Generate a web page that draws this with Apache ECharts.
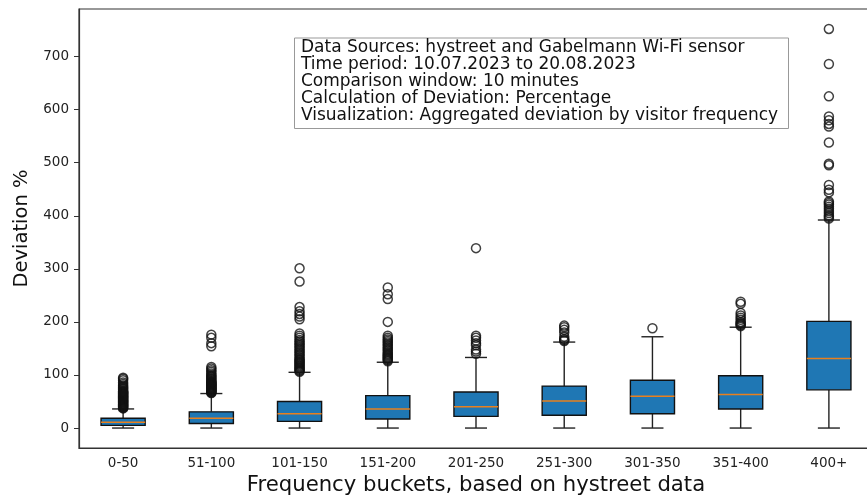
<!DOCTYPE html>
<html>
<head>
<meta charset="utf-8">
<script src="https://cdn.jsdelivr.net/npm/echarts@6/dist/echarts.min.js"></script>
<style>
html,body{margin:0;padding:0;background:#fff;}
#chart{width:867px;height:495px;}
</style>
</head>
<body>
<div id="chart"></div>
<script>
const categories = ['0-50','51-100','101-150','151-200','201-250','251-300','301-350','351-400','400+'];
const whiskerLow = [0, 0, 0, 0, 0, 0, 0, 0, 0];
const q1 = [5, 8.7, 12.5, 17, 22, 24, 27, 36, 72];
const medians = [11, 18.5, 27, 36, 40, 51, 60, 63, 131];
const q3 = [18.5, 30.5, 50, 61, 68, 79, 90, 98.5, 201];
const whiskerHigh = [36, 65, 105, 124, 133, 162, 172, 190, 392];
const outliers = [
  [37,38,39,40,41,42,43,44,45,46,47,48,49,50,51,52,53,54,55,56,57,58,59,60,61,62,63,64,65,66,67,68,69,70,72,74,76,78,80,83,86,90,93,95],
  [66,67,68,69,70,71,72,73,74,75,76,77,78,79,80,81,82,83,84,85,86,87,88,90,92,94,96,98,100,103,106,109,112,115,154,160,170,176],
  [106,108,110,112,114,116,118,120,122,124,126,128,130,133,136,139,142,145,148,151,154,157,160,163,166,170,174,178,205,210,215,220,228,276,301],
  [126,128,130,132,134,136,138,140,143,146,149,152,155,158,161,164,167,170,174,200,243,252,265],
  [140,144,148,156,160,165,170,174,339],
  [164,166,168,172,180,185,190,193],
  [188],
  [192,194,196,198,200,204,208,212,217,234,238],
  [395,398,401,405,409,413,417,421,424,427,444,449,458,495,498,538,568,573,580,587,625,686,752]
];
const yTicks = [0,100,200,300,400,500,600,700];
const infoLines = [
  'Data Sources: hystreet and Gabelmann Wi-Fi sensor',
  'Time period: 10.07.2023 to 20.08.2023',
  'Comparison window: 10 minutes',
  'Calculation of Deviation: Percentage',
  'Visualization: Aggregated deviation by visitor frequency'
];

const FONT = 'DejaVu Sans';
const boxData = categories.map((c, i) => [i, whiskerLow[i], q1[i], medians[i], q3[i], whiskerHigh[i]]);
const outlierData = [];
outliers.forEach((arr, i) => arr.forEach(v => outlierData.push([i, v])));

const chart = echarts.init(document.getElementById('chart'), null, {renderer: 'canvas'});

function renderBox(params, api) {
  const idx = api.value(0);
  const band = api.size([1, 0])[0];
  const hb = band * 0.25, hc = band * 0.125;
  const pLo = api.coord([idx, api.value(1)]);
  const pQ1 = api.coord([idx, api.value(2)]);
  const pMed = api.coord([idx, api.value(3)]);
  const pQ3 = api.coord([idx, api.value(4)]);
  const pHi = api.coord([idx, api.value(5)]);
  const x = pQ1[0];
  const lineStyle = {stroke: '#222', lineWidth: 1.4, fill: null};
  return {
    type: 'group',
    children: [
      {type: 'line', shape: {x1: x, y1: pQ1[1], x2: x, y2: pLo[1]}, style: lineStyle},
      {type: 'line', shape: {x1: x, y1: pQ3[1], x2: x, y2: pHi[1]}, style: lineStyle},
      {type: 'line', shape: {x1: x - hc, y1: pLo[1], x2: x + hc, y2: pLo[1]}, style: lineStyle},
      {type: 'line', shape: {x1: x - hc, y1: pHi[1], x2: x + hc, y2: pHi[1]}, style: lineStyle},
      {type: 'rect', shape: {x: x - hb, y: pQ3[1], width: hb * 2, height: pQ1[1] - pQ3[1]},
        style: {fill: '#1f77b4', stroke: '#111', lineWidth: 1.4}},
      {type: 'line', shape: {x1: x - hb, y1: pMed[1], x2: x + hb, y2: pMed[1]},
        style: {stroke: '#e8801e', lineWidth: 1.5}}
    ]
  };
}

chart.setOption({
  animation: false,
  backgroundColor: '#fff',
  grid: {left: 79, right: -6, top: 9, bottom: 47, show: true, borderColor: '#333', borderWidth: 1.2,
         backgroundColor: 'transparent', containLabel: false, outerBoundsMode: 'none'},
  xAxis: {
    type: 'category',
    data: categories,
    boundaryGap: true,
    name: 'Frequency buckets, based on hystreet data',
    nameLocation: 'middle',
    nameGap: 23,
    nameTextStyle: {fontFamily: FONT, fontSize: 21.2, color: '#111'},
    axisLine: {onZero: false, lineStyle: {color: '#333', width: 1.2}},
    axisTick: {alignWithLabel: true, length: 5, lineStyle: {color: '#333'}},
    axisLabel: {fontFamily: FONT, fontSize: 13.5, color: '#222', margin: 8},
    splitLine: {show: false}
  },
  yAxis: {
    type: 'value',
    min: -37.6,
    max: 789.6,
    name: 'Deviation %',
    nameLocation: 'middle',
    nameGap: 46,
    nameRotate: 90,
    nameTextStyle: {fontFamily: FONT, fontSize: 19.5, color: '#111'},
    axisLine: {show: true, onZero: false, lineStyle: {color: '#333', width: 1.2}},
    axisTick: {show: true, length: 5, lineStyle: {color: '#333'}, customValues: yTicks},
    axisLabel: {fontFamily: FONT, fontSize: 13.5, color: '#222', margin: 10, customValues: yTicks},
    splitLine: {show: false}
  },
  series: [
    {
      type: 'custom',
      renderItem: renderBox,
      data: boxData,
      encode: {x: 0, y: [1, 2, 3, 4, 5]},
      z: 2
    },
    {
      type: 'scatter',
      data: outlierData,
      symbol: 'circle',
      symbolSize: 9,
      itemStyle: {color: 'rgba(255,255,255,0)', borderColor: '#111', borderWidth: 1.5},
      z: 3
    }
  ],
  graphic: [
    {
      type: 'rect',
      left: 294, top: 37.5,
      shape: {width: 494, height: 90.5},
      style: {fill: '#fff', stroke: '#999', lineWidth: 1},
      z: 10
    },
    {
      type: 'text',
      left: 301, top: 39.5,
      style: {
        text: infoLines.join('\n'),
        font: '17px "' + FONT + '"',
        lineHeight: 17,
        fill: '#111'
      },
      z: 11
    }
  ]
});
</script>
</body>
</html>
